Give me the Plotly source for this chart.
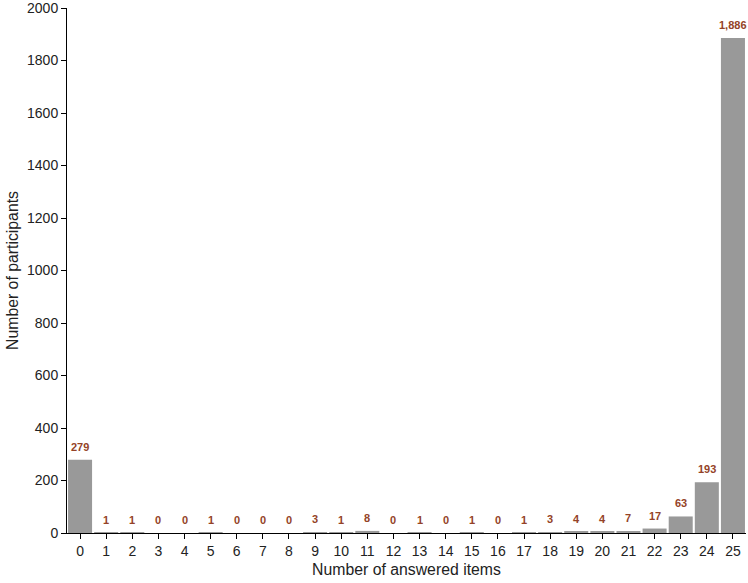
import plotly.graph_objects as go

# data
items = list(range(26))
participants = [279, 1, 1, 0, 0, 1, 0, 0, 0, 3, 1, 8, 0, 1, 0, 1, 0, 1, 3, 4, 4, 7, 17, 63, 193, 1886]
labels = [f"{v:,}" for v in participants]

bar_color = "#999999"
label_color = "#944327"
font_family = "Liberation Sans, Arial, sans-serif"
title_font = dict(family=font_family, size=15.8, color="#222222")

fig = go.Figure()
fig.add_trace(
    go.Bar(
        x=items,
        y=participants,
        marker=dict(color=bar_color, line=dict(width=0)),
        hoverinfo="x+y",
    )
)

# value labels above each bar
for x, y, t in zip(items, participants, labels):
    fig.add_annotation(
        x=x,
        y=y,
        text=f"<b>{t}</b>",
        showarrow=False,
        yanchor="bottom",
        yshift=5,
        font=dict(size=11, color=label_color),
    )

fig.update_layout(
    width=748,
    height=583,
    margin=dict(l=67, r=2, t=8, b=50, autoexpand=False),
    paper_bgcolor="white",
    plot_bgcolor="white",
    font=dict(family=font_family, size=14, color="#222222"),
    bargap=0.08,
    showlegend=False,
)
fig.update_xaxes(
    range=[-0.5, 25.5],
    tickmode="array",
    tickvals=items,
    ticktext=[str(i) for i in items],
    ticks="outside",
    ticklen=5,
    tickcolor="black",
    showline=True,
    linecolor="black",
    linewidth=1,
    showgrid=False,
    zeroline=False,
    title=dict(text="Number of answered items", standoff=6, font=title_font),
)
fig.update_yaxes(
    range=[0, 2000],
    dtick=200,
    ticks="outside",
    ticklen=5,
    tickcolor="black",
    ticklabeloverflow="allow",
    showline=True,
    linecolor="black",
    linewidth=1,
    showgrid=False,
    zeroline=False,
    title=dict(text="Number of participants", standoff=4, font=title_font),
)

# drop the default page margin so the figure fills the window
fig.write_html(
    "out.html",
    config={"displayModeBar": False},
    post_script="document.body.style.margin='0';",
)
